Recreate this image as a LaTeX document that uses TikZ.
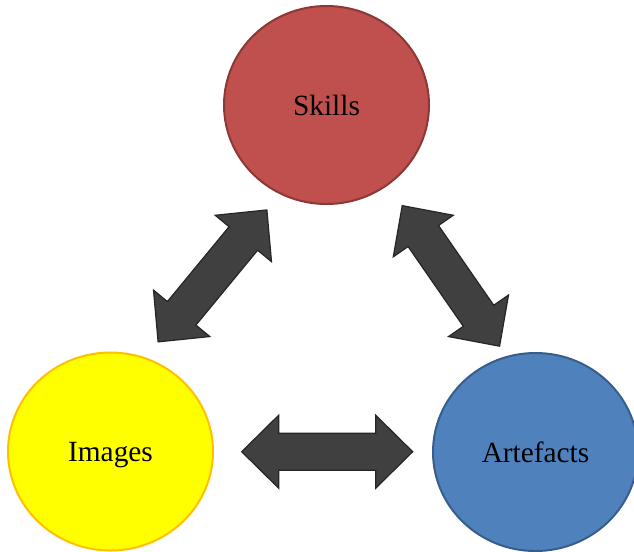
\documentclass[tikz,border=0pt]{standalone}
\usepackage{fontspec}
\setmainfont{Liberation Serif}
\usetikzlibrary{shapes.geometric}
\definecolor{skillfill}{HTML}{C0504D}
\definecolor{skilldraw}{HTML}{8C3836}
\definecolor{imgfill}{HTML}{FFFF00}
\definecolor{imgdraw}{HTML}{FFC000}
\definecolor{artfill}{HTML}{4F81BD}
\definecolor{artdraw}{HTML}{385D8A}
\definecolor{arrfill}{HTML}{404040}
\definecolor{arrdraw}{HTML}{262626}
\begin{document}
\begin{tikzpicture}[x=0.75pt,y=-0.75pt,
  topic/.style={ellipse, inner sep=0pt, minimum width=153.75pt, minimum height=148.5pt,
    line width=1.5pt, text depth=0pt, font=\fontsize{22}{26}\selectfont},
  arrowbody/.style={fill=arrfill, draw=arrdraw, line width=0.9pt, line join=miter},
  pics/dblarrow/.style={code={
    \draw[arrowbody] (-85.5,0) -- (-48.5,-36.5) -- (-48.5,-18.5) -- (48.5,-18.5)
      -- (48.5,-36.5) -- (85.5,0) -- (48.5,36.5) -- (48.5,18.5) -- (-48.5,18.5)
      -- (-48.5,36.5) -- cycle;}}]
\useasboundingbox (0,0) rectangle (634,551);

% the three topics
\node[topic, fill=skillfill, draw=skilldraw] (skills) at (326.5,105) {Skills};
\node[topic, fill=imgfill, draw=imgdraw] (images) at (110.5,451.5) {Images};
\node[topic, fill=artfill, draw=artdraw] (artefacts) at (535.5,452) {Artefacts};

% two-way block arrows between the topics
\pic[rotate=50.5] (skillsimages) at (212.5,275.9) {dblarrow};
\pic[rotate=-55.3] (skillsartefacts) at (450.9,275.9) {dblarrow};
\pic (imagesartefacts) at (327.2,451.7) {dblarrow};
\end{tikzpicture}
\end{document}
